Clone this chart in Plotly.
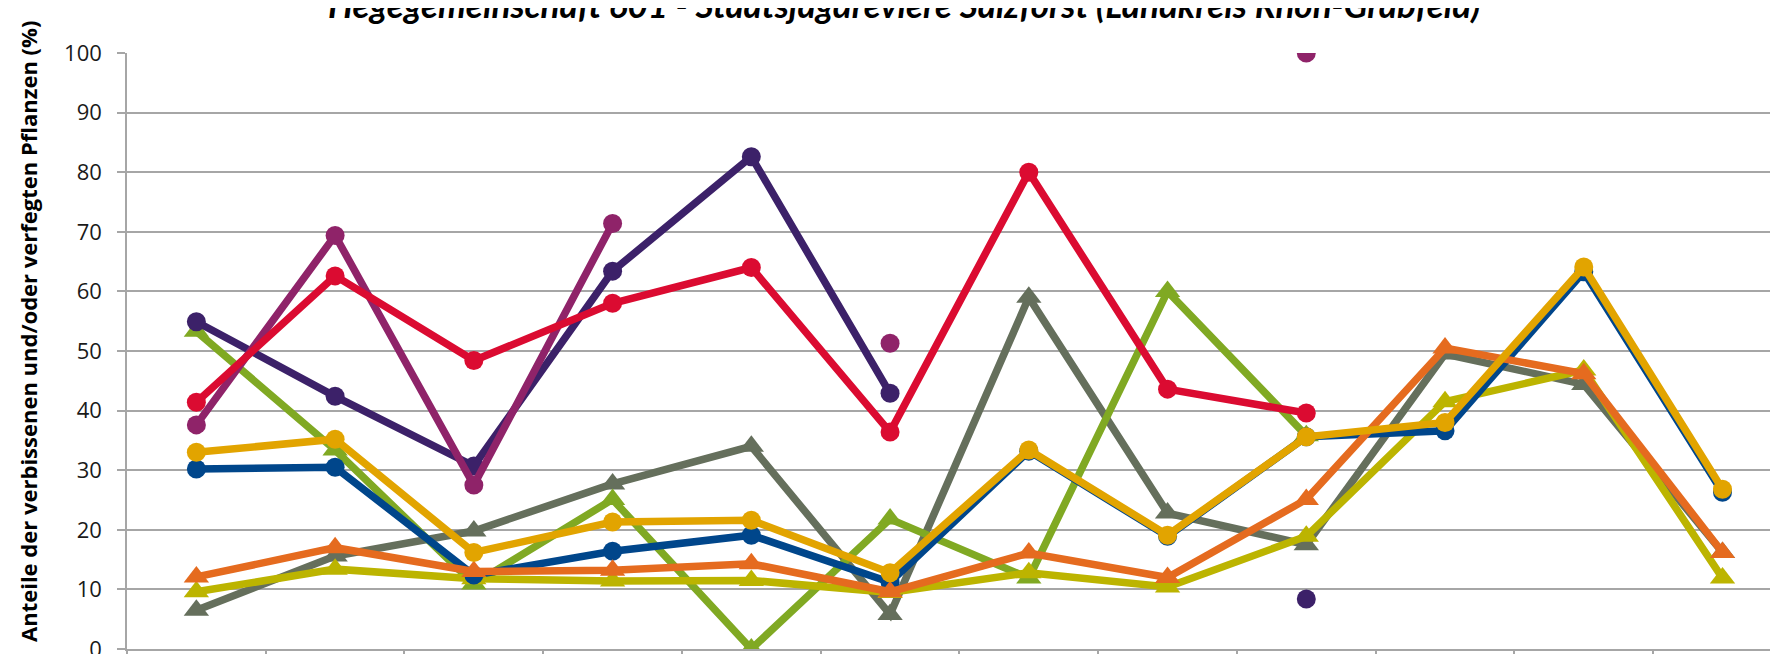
import plotly.graph_objects as go

# Categories (labels are cut off in the reference; positions 1..12)
categories = ["1", "2", "3", "4", "5", "6", "7", "8", "9", "10", "11", "12"]

# Series values (%), None = no value
s_grey = [6.5, 15.6, 19.8, 27.7, 34.0, 5.8, 59.0, 22.8, 17.5, 49.5, 44.4, 16.2]
s_green = [53.3, 33.4, 10.9, 25.1, 0.0, 21.8, 11.9, 60.0, 35.8, None, None, None]
s_olive = [9.6, 13.4, 11.8, 11.4, 11.5, 9.5, 12.8, 10.4, 18.9, 41.5, 46.8, 11.9]
s_dpurple = [54.9, 42.4, 30.7, 63.4, 82.6, 42.9, None, None, 8.4, None, None, None]
s_magenta = [37.6, 69.4, 27.5, 71.4, None, 51.3, None, None, 100.0, None, None, None]
s_red = [41.4, 62.6, 48.4, 58.0, 64.0, 36.4, 80.0, 43.6, 39.6, None, None, None]
s_blue = [30.2, 30.5, 12.4, 16.4, 19.1, 11.2, 33.2, 18.9, 35.6, 36.6, 63.3, 26.3]
s_orange = [12.1, 17.0, 13.0, 13.2, 14.3, 9.6, 16.1, 12.0, 25.1, 50.5, 46.2, 16.2]
s_gold = [33.0, 35.2, 16.2, 21.3, 21.6, 12.8, 33.4, 19.1, 35.6, 38.0, 64.1, 26.8]

y_ticks = [0, 10, 20, 30, 40, 50, 60, 70, 80, 90, 100]

series = [
    ("Reihe 1", s_grey, "#656F5C", "triangle-up"),
    ("Reihe 2", s_green, "#80A923", "triangle-up"),
    ("Reihe 3", s_olive, "#BCB400", "triangle-up"),
    ("Reihe 4", s_dpurple, "#3C2169", "circle"),
    ("Reihe 5", s_magenta, "#8F2369", "circle"),
    ("Reihe 6", s_red, "#DB0B31", "circle"),
    ("Reihe 7", s_blue, "#00468B", "circle"),
    ("Reihe 8", s_orange, "#E56B1F", "triangle-up"),
    ("Reihe 9", s_gold, "#E2A400", "circle"),
]

fig = go.Figure()
for name, vals, col, sym in series:
    fig.add_trace(go.Scatter(
        x=categories, y=vals, name=name, mode="lines+markers",
        connectgaps=False,
        line=dict(color=col, width=7.5),
        marker=dict(color=col, symbol=sym, size=22 if sym == "triangle-up" else 19,
                    line=dict(width=0)),
    ))

# page has an 8px body margin; plot area positioned to match the window
W, H = 1770, 662
L, R, T, B = 119, 0, 45, 21
pw = W - L - R
ph = H - T - B

fig.update_layout(
    width=W, height=H, autosize=False,
    margin=dict(l=L, r=R, t=T, b=B, pad=0),
    paper_bgcolor="white", plot_bgcolor="white",
    showlegend=False,
    font=dict(family="Open Sans", color="#000000"),
)
fig.update_xaxes(
    type="category", range=[-0.5, 11.4],
    showgrid=False, zeroline=False,
    showline=True, linecolor="#A6A6A6", linewidth=1.5,
    ticks="outside", tickson="boundaries", ticklen=6, tickcolor="#A6A6A6", tickwidth=1.5,
    showticklabels=False,
)
fig.update_yaxes(
    range=[0, 100], tickvals=y_ticks,
    showgrid=True, gridcolor="#A6A6A6", gridwidth=1.5,
    zeroline=False,
    showline=True, linecolor="#A6A6A6", linewidth=1.5,
    ticks="outside", ticklen=8, tickcolor="#A6A6A6", tickwidth=1.5,
    ticklabelstandoff=11,
    tickfont=dict(family="Open Sans", size=22, color="#1a1a1a"),
)

fig.add_annotation(
    text="Hegegemeinschaft 601 - Staatsjagdreviere Salzforst (Landkreis Rhön-Grabfeld)",
    xref="paper", yref="paper", x=(896 - L) / pw, y=(H - B + 4) / ph,
    xanchor="center", yanchor="middle", showarrow=False,
    font=dict(family="Lato", size=35, weight="bold", style="italic", color="#000000"),
)
fig.add_annotation(
    text="Anteile der verbissenen und/oder verfegten Pflanzen (%)",
    xref="paper", yref="paper", x=(20 - L) / pw, y=(H - B - 324) / ph,
    xanchor="center", yanchor="middle", showarrow=False, textangle=-90,
    font=dict(family="Open Sans", size=22, weight="bold", color="#000000"),
)

fig.write_html("out.html")
